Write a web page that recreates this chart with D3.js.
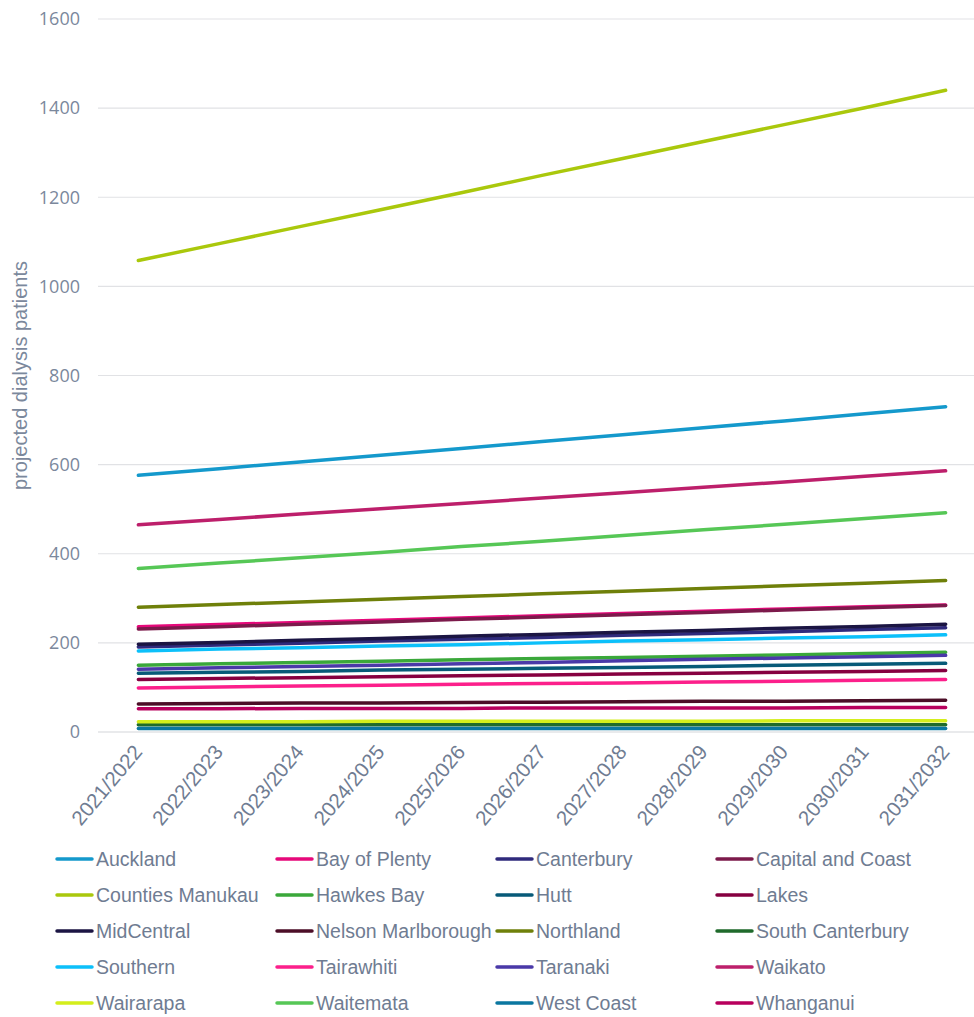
<!DOCTYPE html>
<html>
<head>
<meta charset="utf-8">
<script src="https://cdn.jsdelivr.net/npm/d3@7"></script>
<style>
  html, body { margin: 0; padding: 0; background: #fff; }
  svg { display: block; }
</style>
</head>
<body>
<svg id="chart" width="974" height="1017"></svg>
<script>
const years = ["2021/2022","2022/2023","2023/2024","2024/2025","2025/2026","2026/2027","2027/2028","2028/2029","2029/2030","2030/2031","2031/2032"];
const yTicks = [0,200,400,600,800,1000,1200,1400,1600];

const auckland        = [576,591,606,621,636,652,667,683,698,714,730];
const bayOfPlenty     = [236,241,246,251,256,261,266,271,276,281,285];
const canterbury      = [191,195,199,204,208,212,217,221,225,230,234];
const capitalCoast    = [231,236,242,247,253,258,263,268,274,279,284];
const countiesManukau = [1058,1096,1134,1172,1210,1249,1287,1325,1363,1401,1440];
const hawkesBay       = [150,153,156,159,162,165,167,170,173,176,179];
const hutt            = [132,134,136,139,141,143,145,147,150,152,154];
const lakes           = [118,120,122,124,126,128,130,132,134,136,138];
const midCentral      = [197,201,206,210,215,219,224,228,233,237,242];
const nelsonMarl      = [63,64,65,65,66,67,68,69,69,70,71];
const northland       = [280,286,292,298,304,310,316,322,328,334,340];
const southCanterbury = [16,16,16,16,16,16,16,16,16,16,16];
const southern        = [182,186,189,193,196,200,204,207,211,214,218];
const tairawhiti      = [99,101,103,105,107,109,110,112,114,116,118];
const taranaki        = [141,144,147,150,153,156,160,163,166,169,172];
const waikato         = [465,477,489,501,513,525,537,549,561,574,586];
const wairarapa       = [23,23,23,24,24,24,24,24,25,25,25];
const waitemata       = [367,379,391,403,416,428,441,454,466,479,492];
const westCoast       = [8,8,8,8,8,8,8,8,8,8,8];
const whanganui       = [52,52,53,53,53,54,54,54,54,55,55];

const seriesNames = ["Auckland","Bay of Plenty","Canterbury","Capital and Coast","Counties Manukau","Hawkes Bay","Hutt","Lakes","MidCentral","Nelson Marlborough","Northland","South Canterbury","Southern","Tairawhiti","Taranaki","Waikato","Wairarapa","Waitemata","West Coast","Whanganui"];
const seriesValues = [auckland,bayOfPlenty,canterbury,capitalCoast,countiesManukau,hawkesBay,hutt,lakes,midCentral,nelsonMarl,northland,southCanterbury,southern,tairawhiti,taranaki,waikato,wairarapa,waitemata,westCoast,whanganui];
const seriesColors = ["#1499cc","#e6087a","#2f2a7c","#7c1a4b","#aac80c","#3aa83a","#075a78","#860040","#1b1543","#4c0e27","#6f800a","#1f6a2b","#0cc0fa","#fc1f8b","#4a39a8","#bd1f6b","#d4ee1c","#56c756","#0b77a0","#b8005d"];

const series = seriesNames.map((n,i)=>({name:n, values:seriesValues[i], color:seriesColors[i]}));

const svg = d3.select("#chart");
const plotLeft = 98, plotRight = 986, plotTop = 19, plotBottom = 732;
const textColor = "#6f7c92";
const narrow = "'Liberation Sans Narrow','Liberation Sans',sans-serif";

const x = d3.scalePoint().domain(years).range([plotLeft, plotRight]).padding(0.5);
const y = d3.scaleLinear().domain([0,1600]).range([plotBottom, plotTop]);

// gridlines
svg.append("g").selectAll("line").data(yTicks).join("line")
  .attr("x1", plotLeft).attr("x2", 974)
  .attr("y1", d=>y(d)).attr("y2", d=>y(d))
  .attr("stroke", d=> d===0 ? "#d4d6da" : "#e1e2e5").attr("stroke-width", 1.2);

// y axis labels
const yAxis = d3.axisLeft(y).tickValues(yTicks).tickSize(0).tickPadding(0).tickFormat(d3.format("d"));
const yg = svg.append("g").attr("transform", `translate(80,0)`).call(yAxis);
yg.select(".domain").remove();
yg.selectAll("text").attr("fill", "#7b889c").style("font-family","'Open Sans', sans-serif").style("font-size","18px");

// y title
svg.append("text")
  .attr("transform", `translate(27,${(plotTop+plotBottom)/2}) rotate(-90)`)
  .attr("text-anchor","middle")
  .attr("fill", "#7b889c")
  .style("font-family", narrow)
  .style("font-size","20px")
  .text("projected dialysis patients");

// x axis labels
const xAxis = d3.axisBottom(x).tickSize(0).tickPadding(0);
const xg = svg.append("g").attr("transform", `translate(0,${plotBottom})`).call(xAxis);
xg.select(".domain").remove();
xg.selectAll("text")
  .attr("fill", textColor)
  .style("font-family", narrow)
  .style("font-size","20.5px")
  .attr("text-anchor","end")
  .attr("dy","0.35em")
  .attr("transform","translate(-1,16) rotate(-50)");

// lines
const line = d3.line().x((d,i)=>x(years[i])).y(d=>y(d));
svg.append("g").selectAll("path").data(series).join("path")
  .attr("d", d=>line(d.values))
  .attr("fill","none")
  .attr("stroke", d=>d.color)
  .attr("stroke-width", 3.5)
  .attr("stroke-linecap","round")
  .attr("stroke-linejoin","round");

// legend
const legCols = 4, legX0 = 57, legColW = 220, legY0 = 859, legRowH = 36;
const lg = svg.append("g").selectAll("g").data(series).join("g")
  .attr("transform", (d,i)=>`translate(${legX0 + (i%legCols)*legColW},${legY0 + Math.floor(i/legCols)*legRowH})`);
lg.append("line").attr("x1",0).attr("x2",35).attr("y1",0).attr("y2",0)
  .attr("stroke", d=>d.color).attr("stroke-width",3.5).attr("stroke-linecap","round");
lg.append("text").attr("x",39).attr("y",0).attr("dy","0.35em")
  .attr("fill", textColor)
  .style("font-family", narrow)
  .style("font-size","19.5px")
  .text(d=>d.name);
</script>
</body>
</html>
